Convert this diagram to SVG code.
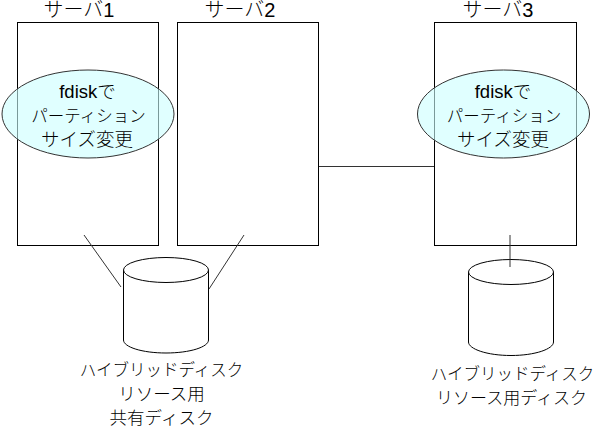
<svg xmlns="http://www.w3.org/2000/svg" width="595" height="427" viewBox="0 0 595 427">
<style>
.box{fill:#fff;stroke:#000;stroke-width:1}
.oval{fill:#ccffff;fill-opacity:.6;stroke:#333;stroke-width:1}
.cyl{fill:#fff;stroke:#000;stroke-width:1}
.link{fill:none;stroke:#333;stroke-width:1}
text{font-family:"Liberation Sans","Noto Sans CJK JP",sans-serif;font-size:16.500px;font-weight:300;fill:#000;text-anchor:middle}
.head{font-size:20px}
.big{font-size:18.500px}
.mid{font-size:17.500px}
</style>
<rect width="595" height="427" fill="#fff"/>
<g id="server1"><rect class="box" x="17.5" y="22.5" width="141" height="223"/><text class="head" x="79" y="17">サーバ1</text></g>
<g id="server2"><rect class="box" x="177.5" y="22.5" width="141" height="223"/><text class="head" x="240" y="17">サーバ2</text></g>
<g id="server3"><rect class="box" x="434.5" y="22.5" width="142" height="223"/><text class="head" x="498" y="17">サーバ3</text></g>
<g id="connectors">
<path class="link" d="M84 235L121 287"/>
<path class="link" d="M244 235L209 289"/>
<path class="link" d="M319 166.500H434"/>
</g>
<g id="fdisk1"><ellipse class="oval" cx="88" cy="114" rx="86" ry="44"/>
<text class="big" x="87.500" y="98">fdiskで</text><text x="88.500" y="122">パーティション</text><text class="big" x="87" y="146">サイズ変更</text></g>
<g id="fdisk3"><ellipse class="oval" cx="503.500" cy="114" rx="86" ry="44"/>
<text class="big" x="503" y="98">fdiskで</text><text x="504" y="122">パーティション</text><text class="big" x="503" y="146">サイズ変更</text></g>
<g id="disk1"><path class="cyl" d="M123.500 270V340C123.500 347 142 353 166 353S208.500 347 208.500 340V270"/><ellipse class="cyl" cx="166" cy="270" rx="42.500" ry="12.500"/>
<text x="161.500" y="375.500">ハイブリッドディスク</text><text class="mid" x="161.500" y="400">リソース用</text><text class="mid" x="161.500" y="423.500">共有ディスク</text></g>
<g id="disk3"><path class="cyl" d="M468.500 272V342C468.500 349 487 355.500 511 355.500S553.500 349 553.500 342V272"/><ellipse class="cyl" cx="511" cy="272" rx="42.500" ry="12.500"/>
<text x="512.500" y="380">ハイブリッドディスク</text><text x="511.500" y="403.500" style="font-size:17px">リソース用ディスク</text></g>
<path class="link" d="M510 235V267"/>
</svg>
